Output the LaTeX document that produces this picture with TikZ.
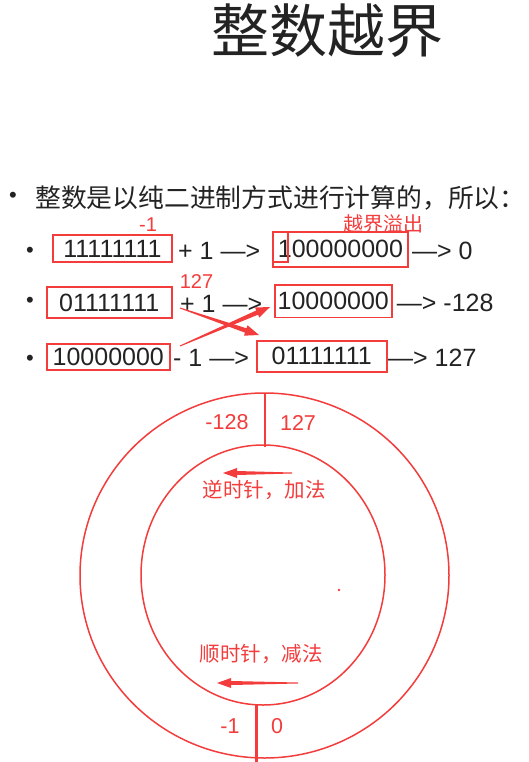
\documentclass[tikz,border=0pt]{standalone}
\usepackage{fontspec}
\setmainfont{Liberation Sans}
\newfontfamily\cjk{Noto Sans CJK SC}
\usetikzlibrary{calc}
\definecolor{annred}{RGB}{243,60,60}
\definecolor{txt}{RGB}{35,35,35}
% tapered arrow: #1 start, #2 tip, #3 prefix, #4 head length, #5 head half width, #6 shaft half width
\newcommand\taperarrow[6]{%
  \path ($(#2)!#4!(#1)$) coordinate (#3hb);
  \fill[annred] ($(#1)!0.5pt!90:(#2)$) -- ($(#3hb)!#6!90:(#2)$) -- ($(#3hb)!#5!90:(#2)$)
    -- (#2) -- ($(#3hb)!#5!-90:(#2)$) -- ($(#3hb)!#6!-90:(#2)$) -- ($(#1)!0.5pt!-90:(#2)$) -- cycle;
}
\begin{document}
\begin{tikzpicture}[x=1pt,y=-1pt,
  box/.style={draw=annred,line width=1.7pt,inner sep=0pt,text=txt,font=\fontsize{25}{30}\selectfont},
  body/.style={inner sep=0pt,anchor=west,text=txt,font=\fontsize{25}{30}\selectfont},
  bul/.style={inner sep=0pt,text=txt,font=\fontsize{22}{26}\selectfont},
  ann/.style={inner sep=0pt,text=annred,font=\fontsize{20}{24}\selectfont},
  anncjk/.style={inner sep=0pt,text=annred,font=\cjk\fontsize{20}{24}\selectfont},
  ring/.style={draw=annred,line width=1.5pt}]
\useasboundingbox[fill=white] (0,0) rectangle (528,762);

% title
\node[inner sep=0pt,text=txt,font=\cjk\fontsize{58}{66}\selectfont] (title) at (327.5,31) {整数越界};

% heading line
\node[bul] (b0) at (13,197) {•};
\node[inner sep=0pt,anchor=west,text=txt,font=\cjk\fontsize{25.8}{30}\selectfont] (head) at (35,197.5) {整数是以纯二进制方式进行计算的，所以：};

% annotations
\node[ann] (m1) at (148,225) {-1};
\node[anncjk] (ovf) at (383,223.5) {越界溢出};
\node[ann] (a127) at (196.5,281.5) {127};

% row 1
\node[bul] (b1) at (30,252) {•};
\node[box,minimum width=119pt,minimum height=27pt] (r1a) at (112.5,248.5) {11111111};
\node[body] (r1t) at (178,250.5) {+ 1 —>};
\node[box,minimum width=135pt,minimum height=35pt] (r1b) at (340.5,249.2) {100000000};
\node[draw=annred,line width=1.7pt,inner sep=0pt,minimum width=15pt,minimum height=30pt] (r1c) at (280.5,246.7) {};
\node[body] (r1u) at (412,250.5) {—> 0};

% row 2
\node[bul] (b2) at (30,302) {•};
\node[box,minimum width=125pt,minimum height=31.6pt] (r2a) at (109.2,302.5) {01111111};
\node[body] (r2t) at (180,303.5) {+ 1 —>};
\node[box,minimum width=116.7pt,minimum height=32.3pt] (r2b) at (333.3,301.2) {10000000};
\node[body] (r2u) at (396.7,303) {—> -128};

% row 3
\node[bul] (b3) at (30,360) {•};
\node[box,minimum width=123.3pt,minimum height=26pt] (r3a) at (108.3,357) {10000000};
\node[body] (r3t) at (173,357.5) {- 1 —>};
\node[box,minimum width=130pt,minimum height=31pt] (r3b) at (321.7,356.2) {01111111};
\node[body] (r3u) at (388,357.5) {—> 127};

% crossing arrows
\coordinate (aAs) at (180,308);
\coordinate (aAe) at (259,335);
\coordinate (aBs) at (180,346);
\coordinate (aBe) at (270,307);
\taperarrow{aAs}{aAe}{aA}{14pt}{5.5pt}{2.3pt}
\taperarrow{aBs}{aBe}{aB}{14pt}{5.5pt}{2.3pt}

% rings
\draw[ring] (264.5,575.5) ellipse [x radius=184.5pt, y radius=182.5pt];
\draw[ring] (263,575) ellipse [x radius=122pt, y radius=130pt];
\coordinate (tl1) at (265,393.5);
\coordinate (tl2) at (265,447);
\draw[annred,line width=2pt] (tl1) -- (tl2);
\coordinate (bl1) at (256.5,705);
\coordinate (bl2) at (256.5,762);
\draw[annred,line width=3pt] (bl1) -- (bl2);

\node[ann,font=\fontsize{21.5}{26}\selectfont] (n128) at (227,422.5) {-128};
\node[ann,font=\fontsize{21.5}{26}\selectfont] (p127) at (298,422.5) {127};
\node[ann,font=\fontsize{21.5}{26}\selectfont] (nm1) at (230,726.5) {-1};
\node[ann,font=\fontsize{21.5}{26}\selectfont] (z0) at (277,726.5) {0};

\node[anncjk,font=\cjk\fontsize{20.5}{24}\selectfont] (ccw) at (264,490) {逆时针，加法};
\node[anncjk,font=\cjk\fontsize{20.5}{24}\selectfont] (cw) at (261,653.5) {顺时针，减法};

\coordinate (tAs) at (292,473);
\coordinate (tAe) at (223,473);
\taperarrow{tAs}{tAe}{tA}{14pt}{5pt}{2pt}
\coordinate (tBs) at (298,683);
\coordinate (tBe) at (217,683);
\taperarrow{tBs}{tBe}{tB}{14pt}{5pt}{2pt}

\fill[annred] (339,590) circle [radius=1.3pt];
\end{tikzpicture}
\end{document}
